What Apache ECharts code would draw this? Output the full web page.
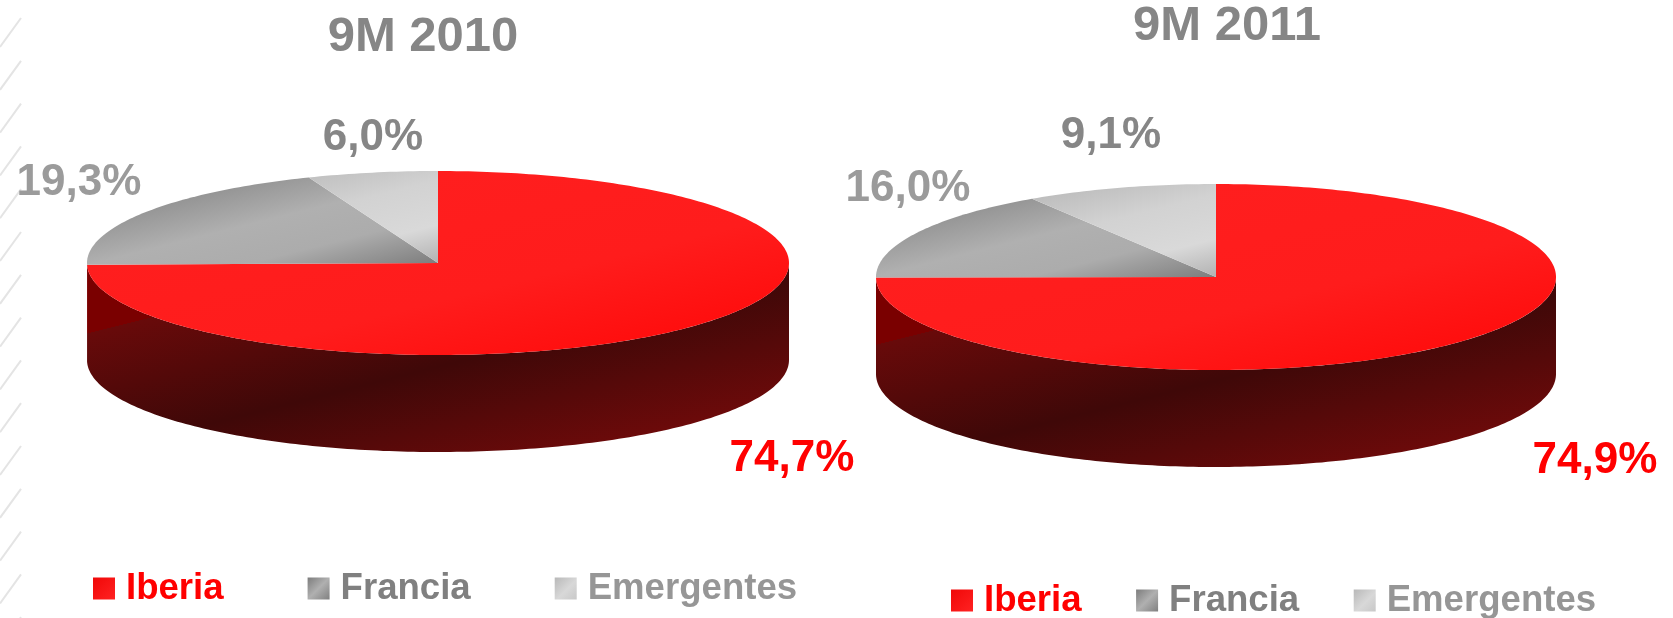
<!DOCTYPE html>
<html>
<head>
<meta charset="utf-8">
<title>9M 2010 / 9M 2011</title>
<script src="https://cdn.jsdelivr.net/npm/echarts@6/dist/echarts.min.js"></script>
<style>
    html, body { margin: 0; padding: 0; background: #fff; }
    #chart { width: 1673px; height: 618px; }
</style>
</head>
<body>
<div id="chart"></div>
<script>
const categories = ['Iberia', 'Francia', 'Emergentes'];
const periods = ['9M 2010', '9M 2011'];
const shares2010 = [74.7, 19.3, 6.0];
const shares2011 = [74.9, 16.0, 9.1];

const FONT = '"Liberation Sans", Arial, sans-serif';
const LABEL_COLORS = ['#ff0000', '#9b9b9b', '#868686'];
const LEGEND_COLORS = ['#ff0000', '#808080', '#969696'];

// layout of the two discs
const pies = [
    { shares: shares2010, cx: 438, cy: 263, rx: 351, ry: 92, depth: 97, titleX: 423, titleY: 13,
      labels: [[792, 459], [79, 183], [373, 138]] },
    { shares: shares2011, cx: 1216, cy: 277, rx: 340, ry: 93, depth: 97, titleX: 1227, titleY: 2,
      labels: [[1595, 461], [908, 189], [1111, 136]] }
];

const diag = (pie, from, to, stops) => {
    // the fills run along the same slanted axis, offsets are relative to the disc centre
    return new echarts.graphic.LinearGradient(
        pie.cx + from * 0.25, pie.cy + from,
        pie.cx + to * 0.25, pie.cy + to,
        stops.map(s => ({ offset: s[0], color: s[1] })),
        true
    );
};

function topFill(pie, catIndex) {
    if (catIndex === 0) {
        return diag(pie, -90, 120, [[0, '#ff1e1e'], [0.6, '#ff1c1c'], [1, '#ff0e0e']]);
    }
    if (catIndex === 1) {
        return diag(pie, -130, 0, [[0, '#8e8e8e'], [0.38, '#b0b0b0'], [0.66, '#acacac'], [1, '#7e7e7e']]);
    }
    return diag(pie, -120, 0, [[0, '#bcbcbc'], [0.35, '#d2d2d2'], [0.7, '#d9d9d9'], [1, '#b2b2b2']]);
}

function sideFill(pie) {
    return diag(pie, -130, 325, [
        [0, '#7a0000'], [0.25, '#7a0000'], [0.25, '#680a0a'],
        [0.5, '#3f0808'], [0.75, '#6c0a0a'], [0.75, '#7a0000'], [1, '#7a0000']
    ]);
}

function arcPoints(pie, fromDeg, toDeg, dy) {
    const pts = [];
    const steps = Math.max(2, Math.ceil(Math.abs(toDeg - fromDeg)));
    for (let i = 0; i <= steps; i++) {
        const a = (fromDeg + (toDeg - fromDeg) * i / steps) * Math.PI / 180;
        pts.push([pie.cx + pie.rx * Math.sin(a), pie.cy - pie.ry * Math.cos(a) + dy]);
    }
    return pts;
}

function sliceSeries(pie, catIndex) {
    const before = pie.shares.slice(0, catIndex).reduce((a, b) => a + b, 0);
    return {
        type: 'custom',
        name: categories[catIndex],
        coordinateSystem: 'none',
        silent: true,
        data: [[pie.shares[catIndex]]],
        renderItem: function (params, api) {
            const share = api.value(0);
            const start = before * 3.6;
            const end = (before + share) * 3.6;
            const children = [];

            // wall: only the part of the slice that faces the viewer
            const wallFrom = Math.max(start, 90);
            const wallTo = Math.min(end, 270);
            if (wallTo > wallFrom) {
                children.push({
                    type: 'polygon',
                    shape: {
                        points: arcPoints(pie, wallFrom, wallTo, 0)
                            .concat(arcPoints(pie, wallTo, wallFrom, pie.depth))
                    },
                    style: { fill: sideFill(pie) }
                });
            }

            children.push({
                type: 'polygon',
                shape: { points: [[pie.cx, pie.cy]].concat(arcPoints(pie, start, end, 0)) },
                style: { fill: topFill(pie, catIndex) }
            });

            children.push({
                type: 'text',
                x: pie.labels[catIndex][0],
                y: pie.labels[catIndex][1],
                style: {
                    text: share.toFixed(1).replace('.', ',') + '%',
                    fill: LABEL_COLORS[catIndex],
                    font: 'bold 44px ' + FONT,
                    align: 'center',
                    verticalAlign: 'middle'
                }
            });
            return { type: 'group', children: children };
        }
    };
}

function legendData() {
    const swatches = [
        [[0, '#f00808'], [1, '#ff2222']],
        [[0, '#7c7c7c'], [0.5, '#b0b0b0'], [1, '#808080']],
        [[0, '#b8b8b8'], [0.55, '#d8d8d8'], [1, '#c8c8c8']]
    ];
    return categories.map((name, i) => ({
        name: name,
        icon: 'rect',
        itemStyle: {
            color: new echarts.graphic.LinearGradient(0, 0, 1, 1,
                swatches[i].map(s => ({ offset: s[0], color: s[1] })))
        },
        textStyle: { color: LEGEND_COLORS[i] }
    }));
}

function makeLegend(left, top, gap) {
    return {
        left: left,
        top: top,
        padding: 0,
        itemWidth: 22,
        itemHeight: 22,
        itemGap: gap,
        selectedMode: false,
        data: legendData(),
        textStyle: {
            fontFamily: FONT,
            fontWeight: 'bold',
            fontSize: 36.6,
            padding: [0, 0, 0, 6]
        }
    };
}

// faint hatch down the left edge of the slide
function hatchLines() {
    const lines = [];
    for (let y = 18; y < 618; y += 42.8) {
        lines.push({
            type: 'line',
            silent: true,
            shape: { x1: 21, y1: y, x2: 0, y2: y + 29 },
            style: { stroke: '#e4e4e4', lineWidth: 2 }
        });
    }
    return lines;
}

const chart = echarts.init(document.getElementById('chart'), null, { renderer: 'canvas' });
chart.setOption({
    backgroundColor: '#ffffff',
    animation: false,
    title: periods.map((text, i) => ({
        text: text,
        left: pies[i].titleX,
        top: pies[i].titleY,
        padding: 0,
        textAlign: 'center',
        textStyle: { fontFamily: FONT, fontWeight: 'bold', fontSize: 49, color: '#868686' }
    })),
    legend: [makeLegend(93, 570, 84), makeLegend(951, 582, 54.5)],
    graphic: hatchLines(),
    series: pies.flatMap(pie => categories.map((name, i) => sliceSeries(pie, i)))
});

window.addEventListener('resize', () => chart.resize());
</script>
</body>
</html>
